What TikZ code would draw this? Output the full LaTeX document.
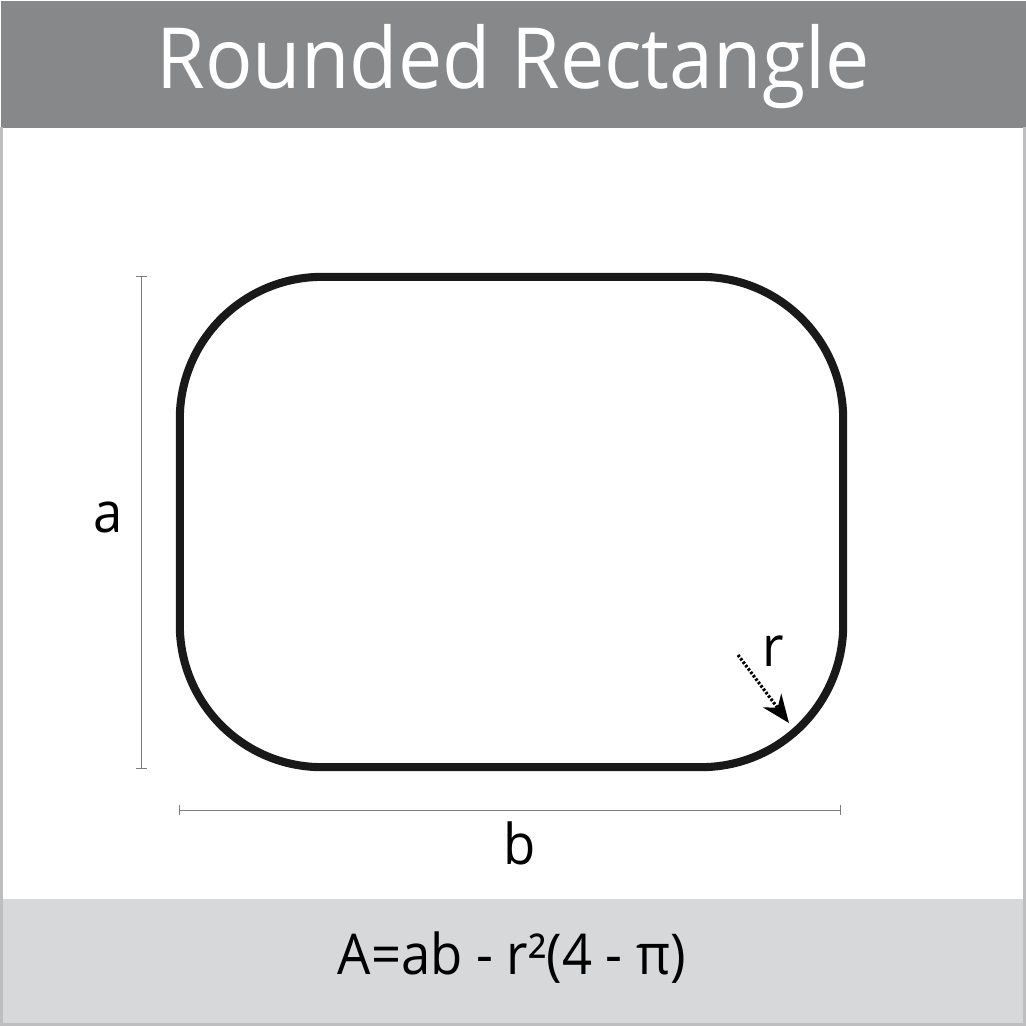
\documentclass[tikz,border=0pt]{standalone}
\usepackage{fontspec}
\setmainfont{Open Sans}
\newfontfamily\narrowsans[FakeStretch=0.935]{Open Sans}
\usetikzlibrary{arrows.meta,positioning,calc}
\definecolor{bandtop}{RGB}{135,136,138}
\definecolor{bandbot}{RGB}{215,216,218}
\definecolor{dimgray}{RGB}{125,125,125}
\definecolor{frame}{RGB}{190,190,192}
\tikzset{
  band/.style={draw=none, inner sep=0pt, minimum width=10.26cm, anchor=north west},
  outline/.style={draw=black!90, line width=2.3pt, rounded corners=1.42cm, inner sep=0pt},
  dimline/.style={draw=dimgray, line width=0.35pt, {Bar[width=3pt]}-{Bar[width=3pt]}},
  lbl/.style={font=\narrowsans\fontsize{16}{16}\selectfont, inner sep=0pt},
  arr/.style={-{Stealth[length=8pt, width=6.5pt]}, line width=0.9pt, dash pattern=on 0.7pt off 0.5pt}}
\begin{document}
\begin{tikzpicture}[x=0.01cm, y=-0.01cm]
  \useasboundingbox (0,0) rectangle (1026,1026);
  \node[band, fill=bandtop, minimum height=1.27cm] (head) at (0,0) {};
  \node[band, fill=bandbot, minimum height=1.28cm] (foot) at (0,898) {};
  \draw[frame, line width=1.5pt] (0,127) -- (0,1026) -- (1026,1026) -- (1026,127);
  \node[text=white, font=\narrowsans\fontsize{24}{24}\selectfont, inner sep=0pt] (title) at (513,67) {Rounded Rectangle};
  \node[font=\narrowsans\fontsize{16}{16}\selectfont, inner sep=0pt] (area) at (512,958) {A=ab - r²(4 - π)};
  % the shape
  \node[outline, minimum width=6.63cm, minimum height=4.9cm] (rrect) at (511.5,522) {};
  % dimensions
  \coordinate (atop) at ($(rrect.north west)+(-34,3)$);
  \coordinate (abot) at ($(rrect.south west)+(-34,-2)$);
  \coordinate (bleft) at ($(rrect.south west)+(3,39)$);
  \coordinate (bright) at ($(rrect.south east)+(-6,39)$);
  \draw[dimline] (atop) -- (abot);
  \draw[dimline] (bleft) -- (bright);
  \node[lbl] (a) at (108,517) {a};
  \node[lbl] (b) at (520,843) {b};
  \node[lbl] (r) at (773,651) {r};
  \coordinate (rtail) at (738,655);
  \coordinate (rtip) at (789,723);
  \draw[arr] (rtail) -- (rtip);
\end{tikzpicture}
\end{document}
